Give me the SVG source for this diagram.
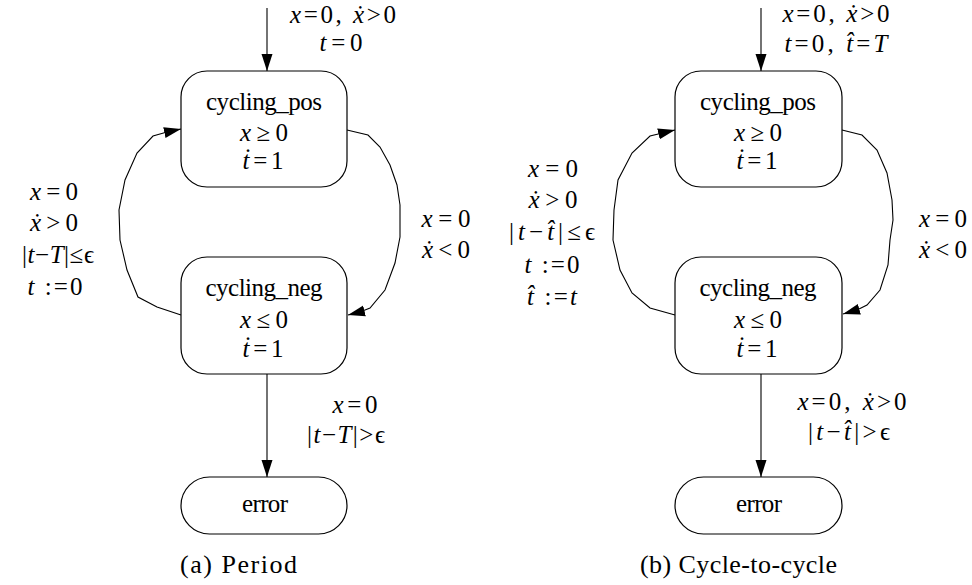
<svg xmlns="http://www.w3.org/2000/svg" width="972" height="585" viewBox="0 0 972 585" font-family="'Liberation Serif', 'Times New Roman', 'DejaVu Serif', serif">
<defs>
<marker id="ah" markerUnits="userSpaceOnUse" markerWidth="18" markerHeight="12" refX="17" refY="6" orient="auto">
<path d="M0,0.5 L17,6 L0,11.5 Z" fill="#000"/>
</marker>
<style>
.node{fill:#fff;stroke:#000;stroke-width:1.2}
.edge{fill:none;stroke:#000;stroke-width:1.1;marker-end:url(#ah)}
text{font-family:'Liberation Serif','Times New Roman','DejaVu Serif',serif;font-size:25px;fill:#000}
.m{text-anchor:middle}
.i{font-style:italic}
.cap{font-size:26px}
</style>
</defs>
<rect width="972" height="585" fill="#fff"/>

<g id="connectors">
<path class="edge" d="M267,8 L267,71"/>
<path class="edge" d="M347,130 L368,135 L380,147 L390,165 L397,185 L400,205 L400,237 L395,263 L385,290 L370,308 L360,312 L348,315"/>
<path class="edge" d="M181,315 L157,307 L138,297 L127,270 L120,240 L119,210 L125,180 L137,153 L153,136 L167,132 L181,129"/>
<path class="edge" d="M267,374 L267,477"/>

<path class="edge" d="M761,8 L761,71"/>
<path class="edge" d="M842,130 L862,135 L877,150 L887,173 L892,200 L893,220 L890,240 L888,265 L880,290 L867,305 L857,310 L843,314"/>
<path class="edge" d="M675,315 L650,308 L632,293 L620,270 L613,240 L614,210 L618,180 L632,153 L650,136 L675,130"/>
<path class="edge" d="M761,374 L761,477"/>
</g>

<g id="labels-a">
<text class="m" x="343" y="23" textLength="106"><tspan class="i">x</tspan>=0, <tspan class="i">ẋ</tspan>&gt;0</text>
<text class="m" x="341" y="51" textLength="43"><tspan class="i">t</tspan>=0</text>
<text class="m" x="446" y="227" textLength="49"><tspan class="i">x</tspan>=0</text>
<text class="m" x="446" y="258" textLength="48"><tspan class="i">ẋ</tspan>&lt;0</text>
<text class="m" x="54" y="200" textLength="48"><tspan class="i">x</tspan>=0</text>
<text class="m" x="54" y="231" textLength="48"><tspan class="i">ẋ</tspan>&gt;0</text>
<text class="m" x="58" y="263" textLength="72">|<tspan class="i">t</tspan>−<tspan class="i">T</tspan>|≤ϵ</text>
<text class="m" x="55" y="295" textLength="55"><tspan class="i">t</tspan> :=0</text>
<text class="m" x="355" y="413" textLength="45"><tspan class="i">x</tspan>=0</text>
<text class="m" x="346" y="443" textLength="78">|<tspan class="i">t</tspan>−<tspan class="i">T</tspan>|&gt;ϵ</text>
<text class="cap" x="180" y="573" textLength="117">(a)  Period</text>
</g>

<g id="labels-b">
<text class="m" x="836" y="22" textLength="107"><tspan class="i">x</tspan>=0, <tspan class="i">ẋ</tspan>&gt;0</text>
<text class="m" x="836" y="52" textLength="103"><tspan class="i">t</tspan>=0, <tspan class="i">t̂</tspan>=<tspan class="i">T</tspan></text>
<text class="m" x="943" y="227" textLength="48"><tspan class="i">x</tspan>=0</text>
<text class="m" x="943" y="258" textLength="48"><tspan class="i">ẋ</tspan>&lt;0</text>
<text class="m" x="553" y="177" textLength="50"><tspan class="i">x</tspan>=0</text>
<text class="m" x="553" y="208" textLength="49"><tspan class="i">ẋ</tspan>&gt;0</text>
<text class="m" x="552" y="240" textLength="86">|<tspan class="i">t</tspan>−<tspan class="i">t̂</tspan>|≤ϵ</text>
<text class="m" x="552" y="273" textLength="55"><tspan class="i">t</tspan> :=0</text>
<text class="m" x="552" y="305" textLength="50"><tspan class="i">t̂</tspan> :=<tspan class="i">t</tspan></text>
<text class="m" x="852" y="410" textLength="109"><tspan class="i">x</tspan>=0, <tspan class="i">ẋ</tspan>&gt;0</text>
<text class="m" x="849" y="440" textLength="82">|<tspan class="i">t</tspan>−<tspan class="i">t̂</tspan>|&gt;ϵ</text>
<text class="cap" x="640" y="573" textLength="197">(b)  Cycle-to-cycle</text>
</g>

<g id="a-cycling_pos">
<rect class="node" x="181" y="71" width="166" height="116" rx="26"/>
<text class="m" x="264" y="110" textLength="116">cycling_pos</text>
<text class="m" x="264" y="141" textLength="48"><tspan class="i">x</tspan>≥0</text>
<text class="m" x="263" y="169" textLength="41"><tspan class="i">ṫ</tspan>=1</text>
</g>
<g id="a-cycling_neg">
<rect class="node" x="181" y="257" width="166" height="117" rx="26"/>
<text class="m" x="264" y="296" textLength="117">cycling_neg</text>
<text class="m" x="264" y="328" textLength="48"><tspan class="i">x</tspan>≤0</text>
<text class="m" x="263" y="357" textLength="41"><tspan class="i">ṫ</tspan>=1</text>
</g>
<g id="a-error">
<rect class="node" x="181" y="477" width="166" height="57" rx="28.5"/>
<text class="m" x="265" y="512" textLength="46">error</text>
</g>

<g id="b-cycling_pos">
<rect class="node" x="675" y="71" width="167" height="116" rx="26"/>
<text class="m" x="758" y="110" textLength="116">cycling_pos</text>
<text class="m" x="758" y="141" textLength="48"><tspan class="i">x</tspan>≥0</text>
<text class="m" x="757" y="169" textLength="41"><tspan class="i">ṫ</tspan>=1</text>
</g>
<g id="b-cycling_neg">
<rect class="node" x="675" y="257" width="167" height="117" rx="26"/>
<text class="m" x="758" y="296" textLength="117">cycling_neg</text>
<text class="m" x="758" y="328" textLength="48"><tspan class="i">x</tspan>≤0</text>
<text class="m" x="757" y="357" textLength="41"><tspan class="i">ṫ</tspan>=1</text>
</g>
<g id="b-error">
<rect class="node" x="675" y="477" width="167" height="57" rx="28.5"/>
<text class="m" x="759" y="512" textLength="46">error</text>
</g>
</svg>
